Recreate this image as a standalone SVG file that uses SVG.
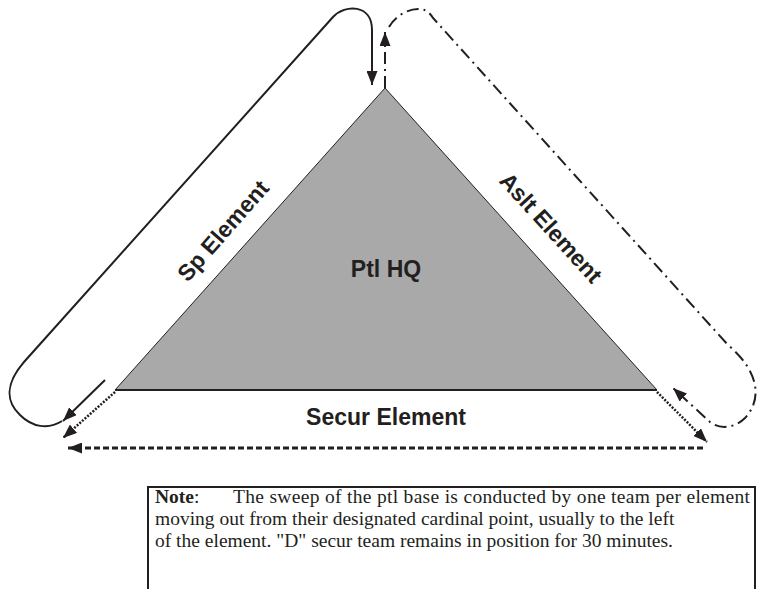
<svg xmlns="http://www.w3.org/2000/svg" width="766" height="589" viewBox="0 0 766 589">
<style>
.lbl{font-family:"Liberation Sans",Arial,sans-serif;font-weight:bold;font-size:23px;fill:#231f20;text-anchor:middle}
.note{font-family:"Liberation Serif","Times New Roman",serif;font-size:19.5px;fill:#231f20}
.ln{fill:none;stroke:#231f20;stroke-width:2}
.dd{stroke-dasharray:12 5 2 5}
.dot{stroke-dasharray:2 1.5;stroke-width:2.5}
.dash{stroke-dasharray:6 3;stroke-width:3}
</style>
<defs>
<marker id="ah" viewBox="0 0 14 11" refX="14" refY="5.5" markerWidth="14" markerHeight="11" orient="auto" markerUnits="userSpaceOnUse"><path d="M0,0 L14,5.5 L0,11 z" fill="#231f20"/></marker>
</defs>
<rect width="766" height="589" fill="#fff"/>
<g id="hq">
<polygon points="385,88 115,390 657,390" fill="#a9a9a9" stroke="#231f20" stroke-width="1"/>
<line x1="115" y1="390" x2="657" y2="390" stroke="#231f20" stroke-width="2"/>
<text class="lbl" x="386" y="277">Ptl HQ</text>
</g>
<g id="sp">
<text class="lbl" transform="translate(229,236) rotate(-48.7)">Sp Element</text>
</g>
<g id="aslt">
<text class="lbl" transform="translate(545,233) rotate(47.8)">Aslt Element</text>
</g>
<g id="secur">
<text class="lbl" x="386" y="425">Secur Element</text>
</g>
<g id="connectors">
<path class="ln" d="M62 421 C48 430 32 427 20 415 C6 402 5 384 24 362 L333 17 C345 4 372 4 372 30 L372 85" marker-end="url(#ah)"/>
<path class="ln" d="M105 380 L63 421" marker-end="url(#ah)"/>
<path class="ln dd" d="M385 88 L385 32" marker-end="url(#ah)"/>
<path class="ln dd" d="M389 27 C396 15 410 8 420 9 C427 10 430 13 433 18 L728 345 C760 372 762 400 745 418 C735 428 720 430 710 422 L673 388" marker-end="url(#ah)"/>
<path class="ln dot" d="M115 392 L63 438" marker-end="url(#ah)"/>
<path class="ln dot" d="M657 392 L707 442" marker-end="url(#ah)"/>
<path class="ln dash" d="M703 448 L68 448" marker-end="url(#ah)"/>
</g>
<g id="note">
<rect x="148" y="487" width="607" height="110" fill="#fff" stroke="#231f20" stroke-width="2"/>
<text class="note" x="155" y="503"><tspan font-weight="bold">Note</tspan>:</text>
<text class="note" x="233" y="503" textLength="517" lengthAdjust="spacing">The sweep of the ptl base is conducted by one team per element</text>
<text class="note" x="155" y="525">moving out from their designated cardinal point, usually to the left</text>
<text class="note" x="155" y="547">of the element. "D" secur team remains in position for 30 minutes.</text>
</g>
</svg>
